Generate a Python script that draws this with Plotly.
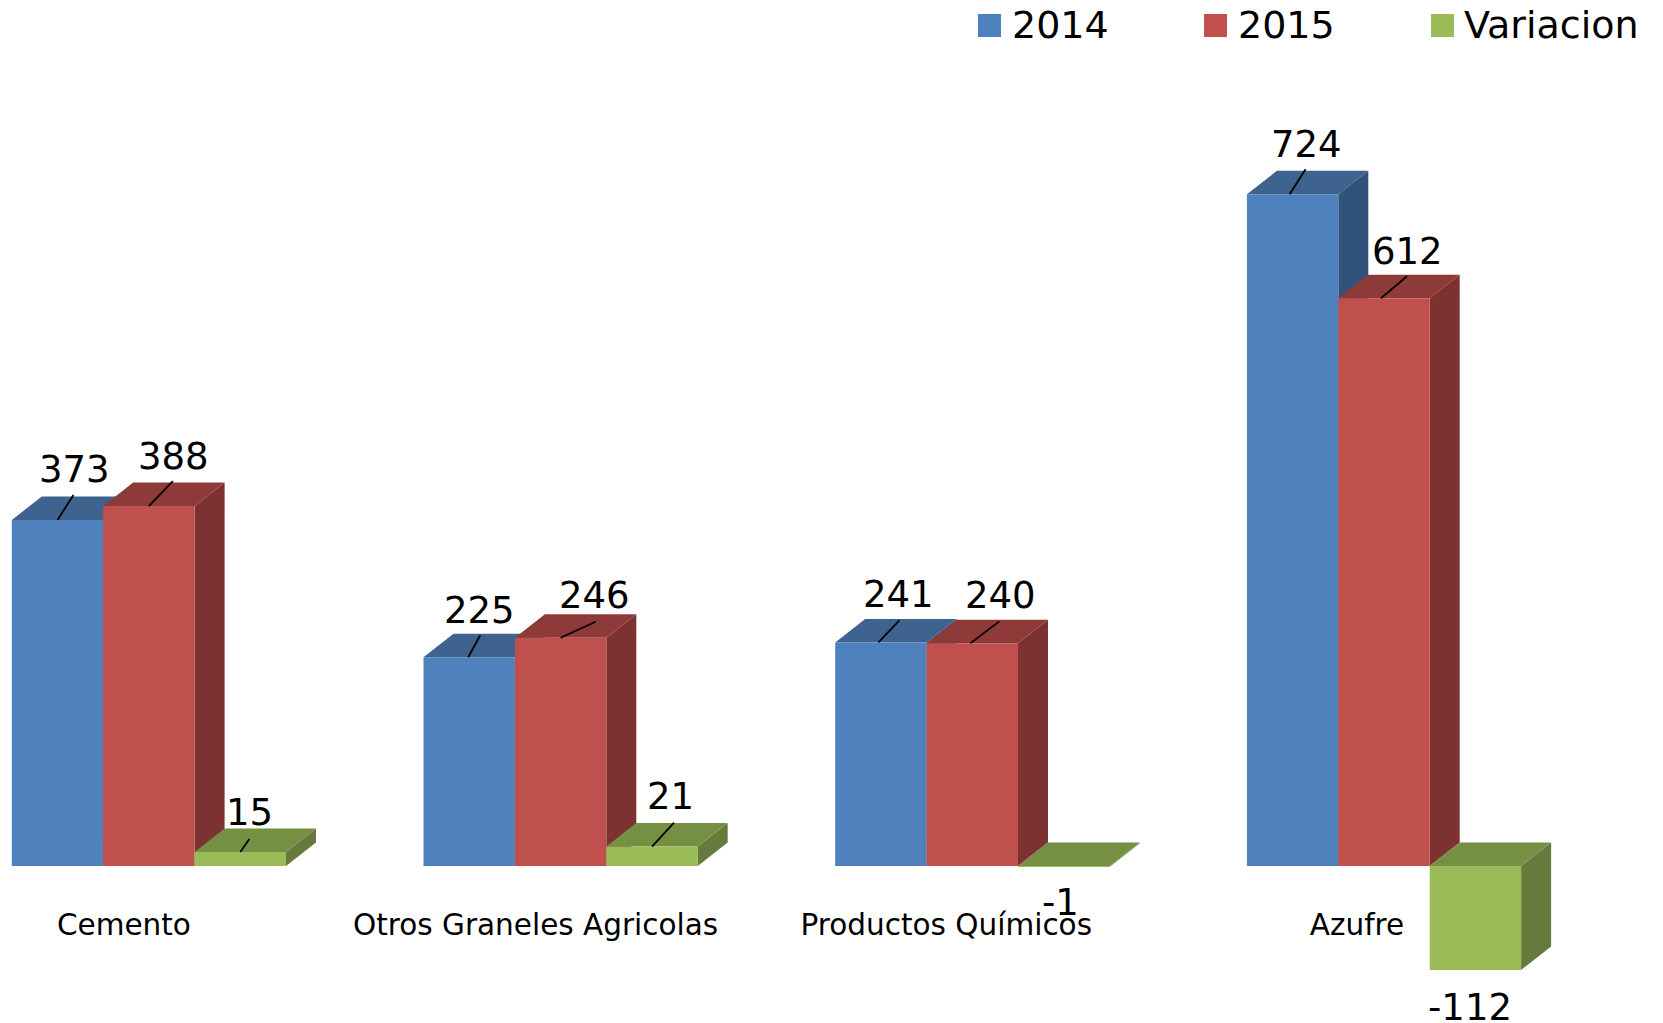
import plotly.graph_objects as go

# --- data ---
categories = ["Cemento", "Otros Graneles Agricolas", "Productos Químicos", "Azufre"]
series_names = ["2014", "2015", "Variacion"]
values_2014 = [373, 225, 241, 724]
values_2015 = [388, 246, 240, 612]
values_var = [15, 21, -1, -112]

# --- styling ---
front_colors = ["#4F81BD", "#C0504D", "#9BBB59"]
top_colors = ["#3E638F", "#8E3A38", "#769043"]
side_colors = ["#325379", "#7B3230", "#657A3C"]
FONT = "DejaVu Sans"
W, H = 1663, 1023
PX_PER_GROUP = 411.7
PX_PER_UNIT = 0.9277
BASE_PX = 866.0
GROUP0_PX = 148.9
BAR_W = 91.4 / PX_PER_GROUP
DEPTH_X = 30 / PX_PER_GROUP
DEPTH_Y = 23.5 / PX_PER_UNIT
x_range = [-GROUP0_PX / PX_PER_GROUP, (W - GROUP0_PX) / PX_PER_GROUP]
y_range = [-(H - BASE_PX) / PX_PER_UNIT, BASE_PX / PX_PER_UNIT]

# label offsets in pixels from the bar end, per series and group
label_offsets = [
    [(17, 50), (10, 47), (18, 48), (13.5, 50)],
    [(24.4, 50), (33.5, 42), (28, 48), (23.5, 47)],
    [(9.5, 40), (18, 50), (-3.7, -36), (-5.7, -38)],
]
# leader lines: start x, end x, end y in pixels from the bar end
leader_offsets = [
    [(0, 16, 25), (-1, 11, 22), (-2.5, 18.5, 22), (-3, 13, 25)],
    [(0, 24, 25), (0, 35, 16), (-2, 27, 22), (-3, 23, 22)],
    [(0, 9, 13), (0, 22, 24), None, None],
]
tick_offsets_px = [-25, -25, -26, -27]
legend_swatch_px = [978, 1204, 1431]
legend_text_px = [1011, 1237, 1463]

all_values = [values_2014, values_2015, values_var]
groups = list(range(len(categories)))

fig = go.Figure()
shapes = []
annotations = []


def poly(points, color):
    path = "M " + " L ".join(f"{x},{y}" for x, y in points) + " Z"
    return dict(type="path", path=path, xref="x", yref="y", layer="below",
                fillcolor=color, line=dict(width=0))


for s, (name, vals) in enumerate(zip(series_names, all_values)):
    fig.add_trace(go.Bar(x=groups, y=vals, name=name, marker=dict(color=front_colors[s], line=dict(width=0)),
                         cliponaxis=False, showlegend=False))
    for g, v in zip(groups, vals):
        left = g + (s - 1.5) * BAR_W
        right = left + BAR_W
        top = max(v, 0)
        low = min(v, 0)
        # side face
        shapes.append(poly([(right, low), (right + DEPTH_X, low + DEPTH_Y),
                            (right + DEPTH_X, top + DEPTH_Y), (right, top)], side_colors[s]))
        # top face
        shapes.append(poly([(left, top), (left + DEPTH_X, top + DEPTH_Y),
                            (right + DEPTH_X, top + DEPTH_Y), (right, top)], top_colors[s]))
        center = (left + right) / 2
        lx, ly = label_offsets[s][g]
        annotations.append(dict(x=center, y=v, xref="x", yref="y", text=str(v), showarrow=False,
                                xshift=lx, yshift=ly, xanchor="center", yanchor="middle",
                                font=dict(family=FONT, size=37, color="#000000")))
        lead = leader_offsets[s][g]
        if lead:
            shapes.append(dict(type="line", xref="x", yref="y", xsizemode="pixel", ysizemode="pixel",
                               xanchor=center, yanchor=v, x0=lead[0], y0=0, x1=lead[1], y1=lead[2],
                               line=dict(color="#000000", width=1.8), layer="above"))

# legend: swatches and names
for name, color, sx, tx in zip(series_names, front_colors, legend_swatch_px, legend_text_px):
    shapes.append(dict(type="rect", xref="paper", yref="paper", layer="below",
                       x0=sx / W, x1=(sx + 23) / W, y0=1 - 37 / H, y1=1 - 14 / H,
                       fillcolor=color, line=dict(width=0)))
    annotations.append(dict(x=tx / W, y=1 - 25.5 / H, xref="paper", yref="paper", text=name, showarrow=False,
                            xanchor="left", yanchor="middle", borderpad=0,
                            font=dict(family=FONT, size=38, color="#000000")))

fig.update_layout(
    width=W, height=H, margin=dict(l=0, r=0, t=0, b=0, pad=0),
    paper_bgcolor="#FFFFFF", plot_bgcolor="#FFFFFF",
    barmode="group", bargap=1 - 3 * BAR_W, bargroupgap=0,
    font=dict(family=FONT, color="#000000"),
    shapes=shapes, annotations=annotations, showlegend=False,
    xaxis=dict(range=x_range, showgrid=False, zeroline=False, showline=False, ticks="",
               tickmode="array", tickvals=[g + o / PX_PER_GROUP for g, o in zip(groups, tick_offsets_px)],
               ticktext=categories,
               tickfont=dict(family=FONT, size=29.5, color="#000000"), tickangle=0,
               anchor="free", position=1 - 904 / H, fixedrange=True, automargin=False),
    yaxis=dict(range=y_range, visible=False, showgrid=False, zeroline=False, fixedrange=True),
)

fig.write_html("out.html", post_script="document.body.style.margin='0';document.body.style.overflow='hidden';",
               config=dict(displayModeBar=False))
